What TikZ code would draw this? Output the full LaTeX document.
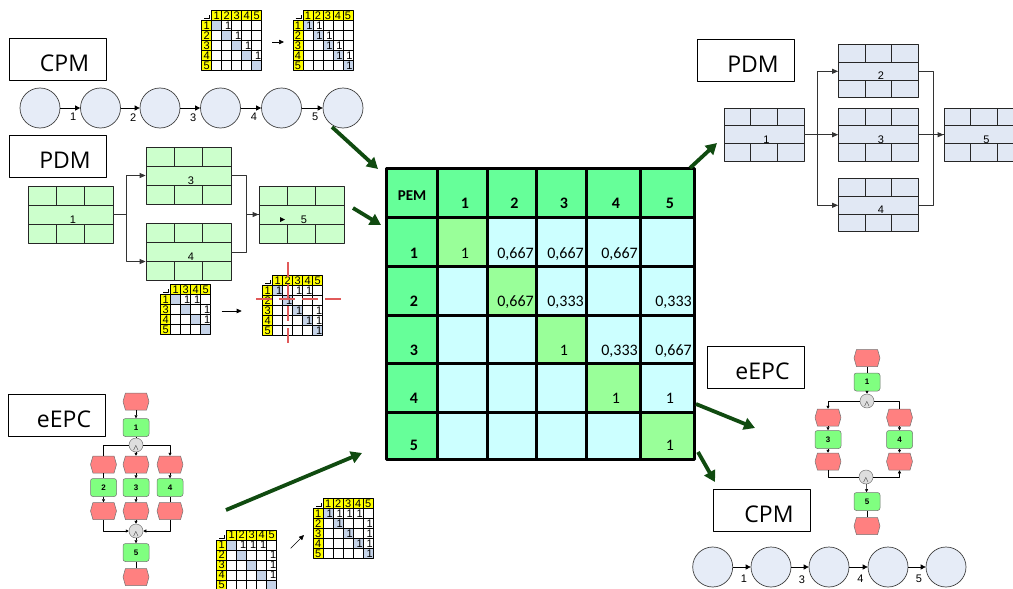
\documentclass[tikz,border=0pt]{standalone}
\usepackage{fontspec}
\setmainfont{Liberation Sans}
\newfontfamily\lblfont{Open Sans}
\newfontfamily\calfont{Carlito}
\usetikzlibrary{arrows.meta,shapes.symbols,calc}

\definecolor{cpmfill}{RGB}{230,236,247}
\definecolor{pdmgreen}{RGB}{204,255,204}
\definecolor{pdmblue}{RGB}{225,232,244}
\definecolor{evred}{RGB}{255,128,128}
\definecolor{fngreen}{RGB}{128,255,128}
\definecolor{congray}{RGB}{222,222,222}
\definecolor{pemhead}{RGB}{102,255,153}
\definecolor{pemdiag}{RGB}{153,255,153}
\definecolor{pemcell}{RGB}{204,255,255}
\definecolor{shead}{RGB}{255,255,0}
\definecolor{sdiag}{RGB}{197,211,232}
\definecolor{crossred}{RGB}{225,90,90}
\definecolor{darrow}{RGB}{16,75,16}

\begin{document}
\begin{tikzpicture}[x=1pt, y=-1pt, line join=round,
    lbox/.style={draw, fill=white, line width=0.8pt, minimum width=97, minimum height=42, inner sep=0,
      font=\lblfont\fontsize{23}{23}\selectfont, text height=24pt, text depth=0pt,
      execute at begin node=\hspace*{14pt}},
    cpm/.style={circle, draw=black!75, fill=cpmfill, line width=0.7pt, minimum size=40, inner sep=0},
    cpmarr/.style={-{Triangle[length=5pt,width=5pt]}, line width=0.7pt},
    numlbl/.style={font=\fontsize{11}{11}\selectfont, inner sep=1pt},
    pdm/.style={draw=black!85, fill=#1, line width=0.8pt, inner sep=0, text height=19pt, text depth=2pt,
      font=\fontsize{11}{11}\selectfont, execute at begin node=\hspace*{5pt},
      path picture={
        \draw[black!85, line width=0.8pt]
          let \p1=(path picture bounding box.north west), \p2=(path picture bounding box.south east),
              \n1={(\x2-\x1)/3}, \n2={(\y1-\y2)/3} in
          (\x1,\y1-\n2) -- (\x2,\y1-\n2)
          (\x1,\y2+\n2) -- (\x2,\y2+\n2)
          (\x1+\n1,\y1) -- (\x1+\n1,\y1-\n2)
          (\x2-\n1,\y1) -- (\x2-\n1,\y1-\n2)
          (\x1+\n1,\y2) -- (\x1+\n1,\y2+\n2)
          (\x2-\n1,\y2) -- (\x2-\n1,\y2+\n2);
      }},
    pdmarr/.style={-{Triangle[length=6pt,width=5pt]}, draw=black!80, line width=0.8pt},
    ev/.style={signal, signal to=east and west, signal pointer angle=148, draw=black!55, fill=evred,
      line width=0.5pt, minimum width=26, minimum height=17, inner sep=0},
    fn/.style={rounded corners=2.5pt, draw=black!55, fill=fngreen, line width=0.5pt, minimum width=26,
      minimum height=18, inner sep=0, font=\bfseries\fontsize{8}{8}\selectfont},
    con/.style={circle, draw=black!55, fill=congray, line width=0.5pt, minimum size=14, inner sep=0,
      font=\fontsize{8}{8}\selectfont, text height=11pt, text depth=0pt},
    epcarr/.style={-{Triangle[length=3pt,width=3pt]}, line width=0.5pt},
    sarr/.style={-{Triangle[length=5pt,width=4.5pt]}, line width=0.6pt},
    garr/.style={-{Triangle[length=11pt,width=12pt]}, draw=darrow, line width=3.8pt},
    pemline/.style={line width=3pt},
    pemhd/.style={font=\calfont\bfseries\fontsize{16}{16}\selectfont, inner sep=0},
    pemval/.style={font=\calfont\fontsize{16}{16}\selectfont, inner sep=0},
    sgrid/.style={draw=black, line width=0.7pt},
    snum/.style={font=\fontsize{11}{11}\selectfont, inner sep=0}]
  \useasboundingbox (0,0) rectangle (1013,589);
  \tikzset{
    pics/smat/.style 2 args={code={
      \draw[line width=0.9pt] (2.5,8) -- (8,8) -- (8,4.5);
      \foreach \a [count=\i] in {#1} {
        \draw[sgrid, fill=shead] (\i*10,0) rectangle ++(10,10);
        \draw[sgrid, fill=shead] (0,\i*10) rectangle ++(10,10);
        \node[snum] at (\i*10+5,5) {\a};
        \node[snum] at (5,\i*10+5) {\a};
        \foreach \b [count=\j] in {#1} {
          \ifnum\i=\j \def\cellc{sdiag}\else\def\cellc{white}\fi
          \draw[sgrid, fill=\cellc] (\j*10,\i*10) rectangle ++(10,10);
        }
      }
      \foreach \r/\c in {#2} \node[snum] at (\c*10+6.5,\r*10+5) {1};
    }}
  }

  % CPM top left
  \node[lbox] (lcpm) at (57.5,59.5) {CPM};
  \foreach \x [count=\i] in {40,100.5,160,220.5,281.5,343}
    \node[cpm] (tc\i) at (\x,108) {};
  \foreach \i [evaluate=\i as \j using int(\i+1)] in {1,...,5}
    \draw[cpmarr] (tc\i) -- node[numlbl, below=4pt, xshift=3pt] (tl\i) {\i} (tc\j);

  \path (201.7,10.7) pic {smat={1,2,3,4,5}{1/2,2/3,3/4,4/5}};
  \path (293,10.7) pic {smat={1,2,3,4,5}{1/1,1/2,2/2,2/3,3/3,3/4,4/4,4/5,5/5}};
  \coordinate (ta1) at (272,42);
  \coordinate (ta2) at (284,42);
  \draw[sarr] (ta1) -- (ta2);

  % PDM left
  \node[lbox] (lpdm) at (58,156) {PDM};
  \begin{scope}[every node/.append style={minimum width=85, minimum height=57}]
    \node[pdm=pdmgreen] (lp1) at (70.5,214.5) {1};
    \node[pdm=pdmgreen] (lp3) at (188.5,175.5) {3};
    \node[pdm=pdmgreen] (lp4) at (188.5,252) {4};
    \node[pdm=pdmgreen] (lp5) at (301.5,214.5) {5};
  \end{scope}
  \draw[pdmarr] (lp1.east) -- ++(13,0) |- (lp3.west);
  \draw[pdmarr] (lp1.east) -- ++(13,0) |- ([yshift=-9.5pt]lp4.west);
  \draw[pdmarr] (lp3.east) -- ++(15,0) |- (lp5.west);
  \draw[black!80, line width=0.8pt] (lp4.east) -- ++(15,0) |- (lp5.west);
  \fill (280,217) -- (285,219.5) -- (280,222) -- cycle;

  \path (160.7,284.3) pic {smat={1,3,4,5}{1/2,1/3,2/4,3/4}};
  \path (262.7,275.7) pic {smat={1,2,3,4,5}{1/1,1/3,1/4,2/2,3/3,3/5,4/4,4/5,5/5}};
  \coordinate (ma1) at (221.7,311);
  \coordinate (ma2) at (241.7,311);
  \draw[sarr] (ma1) -- (ma2);
  \draw[crossred, line width=1.8pt, dash pattern=on 15pt off 7pt] (288.3,262) -- (288.3,350);
  \draw[crossred, line width=1.8pt, dash pattern=on 16pt off 7pt] (256,299) -- (347,299);

  % eEPC left
  \node[lbox] (lepc) at (57,415) {eEPC};
  \node[ev] (le0) at (136,401.5) {};
  \node[fn] (lf1) at (136,427.5) {1};
  \node[con] (la1) at (136,445) {$\wedge$};
  \foreach \x/\n in {103.5/2,136/3,170/4} {
    \node[ev] (le\n) at (\x,464.5) {};
    \node[fn] (lf\n) at (\x,487.5) {\n};
    \node[ev] (lg\n) at (\x,511) {};
  }
  \node[con] (la2) at (136,531) {$\wedge$};
  \node[fn] (lf5) at (136,552.5) {5};
  \node[ev] (le5) at (136,577) {};
  \draw[epcarr] (le0) -- (lf1);
  \draw[line width=0.5pt] (lf1) -- (la1) (la1) -| (le2) (le2) -- (lf2) (lf4) -- (lg4) (lf5) -- (le5);
  \draw[epcarr] (la1) -- (le3);
  \draw[epcarr] (la1) -| (le4);
  \draw[epcarr] (le3) -- (lf3);
  \draw[epcarr] (le4) -- (lf4);
  \draw[epcarr] (lf2) -- (lg2);
  \draw[epcarr] (lf3) -- (lg3);
  \draw[epcarr] (lg2) |- (la2);
  \draw[epcarr] (lg3) -- (la2);
  \draw[epcarr] (lg4) |- (la2);
  \draw[epcarr] (la2) -- (lf5);

  \path (216.7,530) pic {smat={1,2,3,4,5}{1/2,1/3,1/4,2/5,3/5,4/5}};
  \path (313.3,498.3) pic {smat={1,2,3,4,5}{1/1,1/2,1/3,1/4,2/2,2/5,3/3,3/5,4/4,4/5,5/5}};
  \coordinate (ba1) at (290.7,548.3);
  \coordinate (ba2) at (304,535);
  \draw[sarr] (ba1) -- (ba2);

  % PEM matrix
  \def\pemx{{386,437,487,536,586,640,694}}
  \def\pemy{{168,217,266.5,315,363.5,412,459}}
  \foreach \r in {0,...,5}
    \foreach \c in {0,...,5} {
      \pgfmathsetmacro\xl{\pemx[\c]}
      \pgfmathsetmacro\xr{\pemx[\c+1]}
      \pgfmathsetmacro\yt{\pemy[\r]}
      \pgfmathsetmacro\yb{\pemy[\r+1]}
      \def\cellc{pemcell}
      \ifnum\r=\c \def\cellc{pemdiag}\fi
      \ifnum\r=0 \def\cellc{pemhead}\fi
      \ifnum\c=0 \def\cellc{pemhead}\fi
      \fill[\cellc] (\xl,\yt) rectangle (\xr,\yb);
    }
  \foreach \xx in {437,487,536,586,640} \draw[pemline] (\xx,168) -- (\xx,459);
  \foreach \yy in {217,266.5,315,363.5,412} \draw[pemline] (386,\yy) -- (694,\yy);
  \node[draw, line width=3pt, minimum width=308, minimum height=291, inner sep=0] (pem) at (540,313.5) {};
  \node[pemhd, anchor=base, font=\calfont\bfseries\fontsize{15}{15}\selectfont] (pemlbl) at (412,200) {PEM};
  \foreach \c in {1,...,5} {
    \pgfmathsetmacro\xl{\pemx[\c]}
    \pgfmathsetmacro\xr{\pemx[\c+1]}
    \pgfmathsetmacro\xm{(\xl+\xr)/2+3}
    \node[pemhd, anchor=base] (ch\c) at (\xm,208.5) {\c};
  }
  \foreach \r in {1,...,5} {
    \pgfmathsetmacro\yb{\pemy[\r+1]}
    \node[pemhd, anchor=base] (rh\r) at (414,\yb-8.5) {\r};
  }
  \foreach \r/\c in {1/1,3/3,4/4,4/5,5/5} {
    \pgfmathsetmacro\xl{\pemx[\c]}
    \pgfmathsetmacro\xr{\pemx[\c+1]}
    \pgfmathsetmacro\xm{(\xl+\xr)/2+3}
    \pgfmathsetmacro\yb{\pemy[\r+1]}
    \node[pemval, anchor=base] (v\r\c) at (\xm,\yb-8.5) {1};
  }
  \foreach \r/\c/\val in {1/2/{0,667},1/3/{0,667},1/4/{0,667},2/2/{0,667},2/3/{0,333},2/5/{0,333},3/4/{0,333},3/5/{0,667}} {
    \pgfmathsetmacro\xr{\pemx[\c+1]}
    \pgfmathsetmacro\yb{\pemy[\r+1]}
    \node[pemval, anchor=base east] (v\r\c) at (\xr-2,\yb-8.5) {\val};
  }

  % green arrows
  \coordinate (g1) at (332,127);   \coordinate (g1t) at (378,169);
  \coordinate (g2) at (353,208);   \coordinate (g2t) at (381,225);
  \coordinate (g3) at (226,510);   \coordinate (g3t) at (362,453);
  \coordinate (g4) at (690,168);   \coordinate (g4t) at (717,143);
  \coordinate (g5) at (696,404);   \coordinate (g5t) at (755,428);
  \coordinate (g6) at (698,452);   \coordinate (g6t) at (715,482);
  \foreach \i in {1,...,6} \draw[garr] (g\i) -- (g\i t);

  % PDM right
  \node[lbox] (rpdm) at (746,60) {PDM};
  \begin{scope}[every node/.append style={minimum width=80, minimum height=53}]
    \node[pdm=pdmblue] (rp1) at (764,134.7) {1};
    \node[pdm=pdmblue] (rp2) at (878.5,71.3) {2};
    \node[pdm=pdmblue] (rp3) at (878.5,134.7) {3};
    \node[pdm=pdmblue] (rp4) at (878.5,205.3) {4};
    \node[pdm=pdmblue] (rp5) at (984,134.7) {5};
  \end{scope}
  \draw[pdmarr] (rp1.east) -- ++(12.5,0) |- (rp2.west);
  \draw[pdmarr] (rp1.east) -- (rp3.west);
  \draw[pdmarr] (rp1.east) -- ++(12.5,0) |- (rp4.west);
  \draw[black!80, line width=0.8pt] (rp2.east) -- ++(14,0) |- (rp5.west);
  \draw[black!80, line width=0.8pt] (rp4.east) -- ++(14,0) |- (rp5.west);
  \draw[pdmarr] (rp3.east) -- (rp5.west);

  % eEPC right
  \node[lbox] (repc) at (755.5,367.5) {eEPC};
  \begin{scope}[every node/.append style={minimum width=31}]
    \node[ev] (re0) at (867,358) {};
    \node[fn] (rf1) at (867,382) {1};
    \node[ev] (re3) at (828,417.5) {};
    \node[ev] (re4) at (899.5,417.5) {};
    \node[fn] (rf3) at (828,439.5) {3};
    \node[fn] (rf4) at (899.5,439.5) {4};
    \node[ev] (rg3) at (828,461.5) {};
    \node[ev] (rg4) at (899.5,461.5) {};
    \node[fn] (rf5) at (867,501.5) {5};
    \node[ev] (re5) at (867,526) {};
  \end{scope}
  \node[con] (ra1) at (867,401) {$\wedge$};
  \node[con] (ra2) at (866,477) {$\wedge$};
  \draw[line width=0.5pt] (re0) -- (rf1) (ra1) -| (re4) (rg3) |- (ra2) (rf5) -- (re5);
  \draw[epcarr] (rf1) -- (ra1);
  \draw[epcarr] (ra1) -| (re3);
  \draw[epcarr] (re3) -- (rf3);
  \draw[epcarr] (re4) -- (rf4);
  \draw[epcarr] (rf3) -- (rg3);
  \draw[epcarr] (rf4) -- (rg4);
  \draw[epcarr] (ra2) -| (rg4);
  \draw[epcarr] (ra2) -- (rf5);

  % CPM right
  \node[lbox] (rcpm) at (762,510.5) {CPM};
  \foreach \x [count=\i] in {712.7,771,829,888,946}
    \node[cpm] (bc\i) at (\x,567) {};
  \foreach \i/\t [evaluate=\i as \j using int(\i+1)] in {1/1,2/3,3/4,4/5}
    \draw[cpmarr] (bc\i) -- node[numlbl, below=7pt, xshift=2pt] (bl\i) {\t} (bc\j);
\end{tikzpicture}
\end{document}
